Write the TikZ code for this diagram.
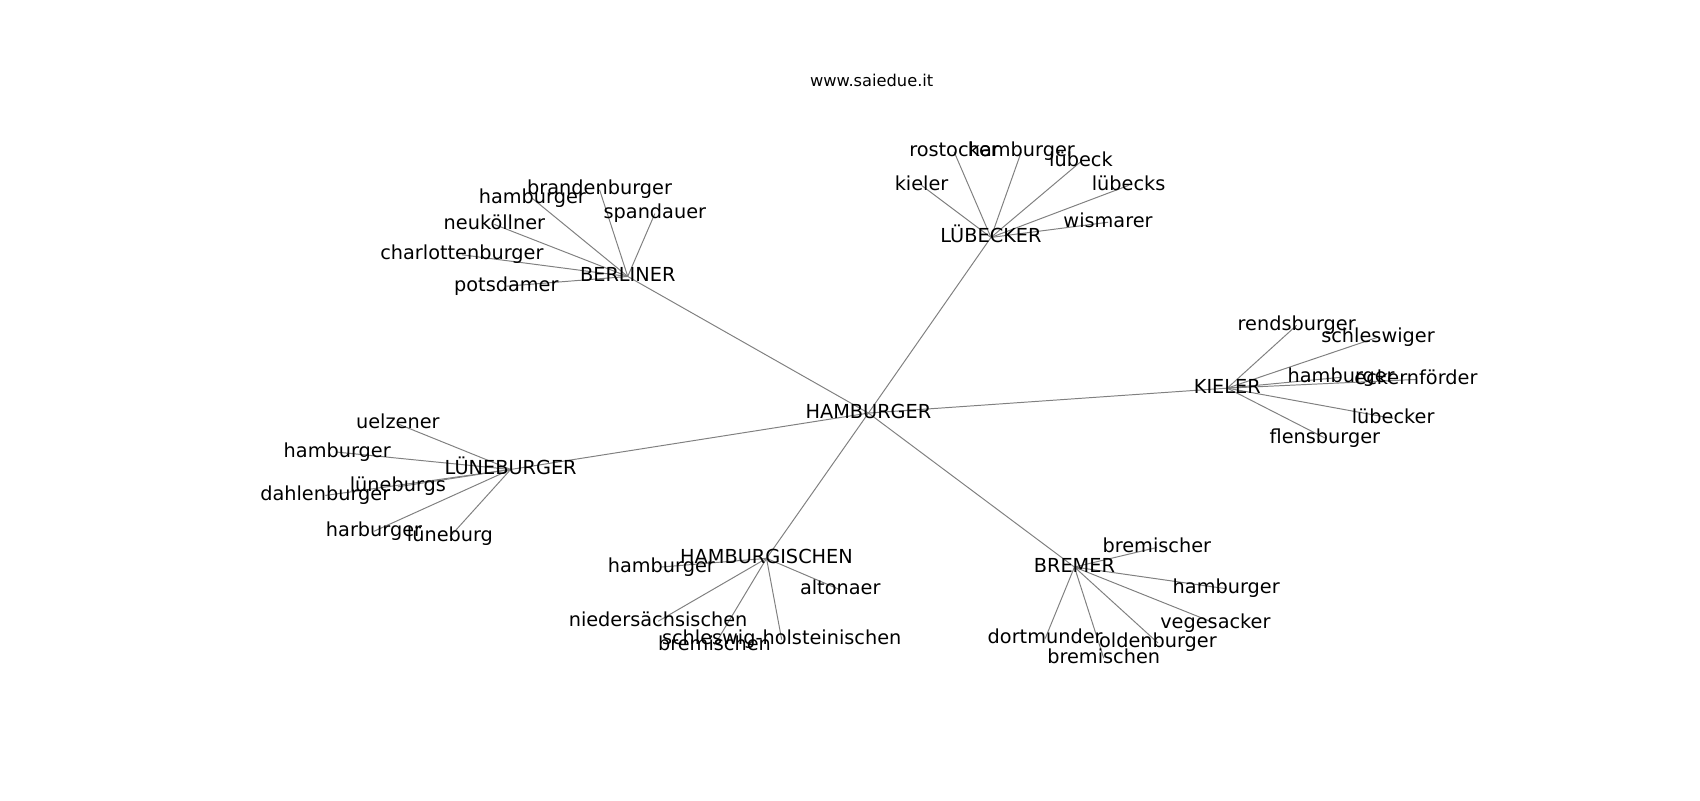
\documentclass[tikz,border=0pt]{standalone}
\usepackage{fontspec}
\setmainfont{DejaVu Sans}
\usetikzlibrary{backgrounds}
\newfontfamily\lblfam{DejaVu Sans}
\begin{document}
\begin{tikzpicture}[x=1bp,y=-1bp,
  lbl/.style={font=\lblfam\fontsize{17.8bp}{20bp}\selectfont, inner sep=0pt, text height=13.5bp, text depth=4.3bp, anchor=center},
  ttl/.style={font=\lblfam\fontsize{15bp}{18bp}\selectfont, inner sep=0pt, text height=11.4bp, text depth=3.6bp, anchor=center},
  edge/.style={draw=black!50, line width=0.9bp}]
\useasboundingbox (0,0) rectangle (1568,738);
\node[ttl] (title) at (804,76) {www.saiedue.it};
% hubs
\node[lbl] (ham) at (801,381) {HAMBURGER};
\node[lbl] (ber) at (579,255) {BERLINER};
\node[lbl] (lub) at (914,219) {LÜBECKER};
\node[lbl] (kie) at (1132,358) {KIELER};
\node[lbl] (lun) at (471,433) {LÜNEBURGER};
\node[lbl] (hgs) at (707,515) {HAMBURGISCHEN};
\node[lbl] (bre) at (991,523) {BREMER};
% Berliner
\node[lbl] (b1) at (553,175) {brandenburger};
\node[lbl] (b2) at (491,183) {hamburger};
\node[lbl] (b3) at (604,197) {spandauer};
\node[lbl] (b4) at (456,207) {neuköllner};
\node[lbl] (b5) at (426,235) {charlottenburger};
\node[lbl] (b6) at (467,264) {potsdamer};
% Luebecker
\node[lbl] (l1) at (880,140) {rostocker};
\node[lbl] (l2) at (942,140) {hamburger};
\node[lbl] (l3) at (997,149) {lübeck};
\node[lbl] (l4) at (850,171) {kieler};
\node[lbl] (l5) at (1041,171) {lübecks};
\node[lbl] (l6) at (1022,205) {wismarer};
% Kieler
\node[lbl] (k1) at (1196,300) {rendsburger};
\node[lbl] (k2) at (1271,311) {schleswiger};
\node[lbl] (k3) at (1237,348) {hamburger};
\node[lbl] (k4) at (1306,350) {eckernförder};
\node[lbl] (k5) at (1285,386) {lübecker};
\node[lbl] (k6) at (1222,404) {flensburger};
% Lueneburger
\node[lbl] (n1) at (367,391) {uelzener};
\node[lbl] (n2) at (311,417) {hamburger};
\node[lbl] (n3) at (367,449) {lüneburgs};
\node[lbl] (n4) at (300,457) {dahlenburger};
\node[lbl] (n5) at (345,490) {harburger};
\node[lbl] (n6) at (415,495) {lüneburg};
% Hamburgischen
\node[lbl] (h1) at (610,523) {hamburger};
\node[lbl] (h2) at (775,544) {altonaer};
\node[lbl] (h3) at (607,573) {niedersächsischen};
\node[lbl] (h5) at (659,595) {bremischen};
\node[lbl] (h4) at (721,590) {schleswig-holsteinischen};
% Bremer
\node[lbl] (r1) at (1067,505) {bremischer};
\node[lbl] (r2) at (1131,543) {hamburger};
\node[lbl] (r3) at (1121,575) {vegesacker};
\node[lbl] (r4) at (964,589) {dortmunder};
\node[lbl] (r5) at (1068,593) {oldenburger};
\node[lbl] (r6) at (1018,607) {bremischen};
\begin{scope}[on background layer]
\fill[white] (0,0) rectangle (1568,738);
\foreach \t in {ber,lub,kie,lun,hgs,bre} \draw[edge] (ham.center) -- (\t.center);
\foreach \t in {b1,b2,b3,b4,b5,b6} \draw[edge] (ber.center) -- (\t.center);
\foreach \t in {l1,l2,l3,l4,l5,l6} \draw[edge] (lub.center) -- (\t.center);
\foreach \t in {k1,k2,k3,k4,k5,k6} \draw[edge] (kie.center) -- (\t.center);
\foreach \t in {n1,n2,n3,n4,n5,n6} \draw[edge] (lun.center) -- (\t.center);
\foreach \t in {h1,h2,h3,h4,h5} \draw[edge] (hgs.center) -- (\t.center);
\foreach \t in {r1,r2,r3,r4,r5,r6} \draw[edge] (bre.center) -- (\t.center);
\end{scope}
\end{tikzpicture}
\end{document}
